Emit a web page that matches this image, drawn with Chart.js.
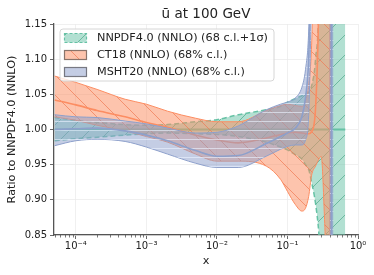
<!DOCTYPE html>
<html>
<head>
<meta charset="utf-8">
<script src="https://cdn.jsdelivr.net/npm/chart.js@4.4.0/dist/chart.umd.min.js"></script>
<style>
  body { margin: 0; background: #fff; }
  canvas { display: block; }
</style>
</head>
<body>
<canvas id="myChart" width="374" height="275"></canvas>
<script>
// values (ratio to NNPDF4.0 central value)
const nnpdfX = [5e-5, 1e-4, 2e-4, 5e-4, 1e-3, 2e-3, 5e-3, 1e-2, 2e-2, 5e-2, 0.08, 0.1, 0.13, 0.16, 0.18, 0.2, 0.22, 0.25, 0.28, 0.3, 0.4, 0.5, 0.66]
const nnpdfCentral = [1, 1, 1, 1, 1, 1, 1, 1, 1, 1, 1, 1, 1, 1, 1, 1, 1, 1, 1, 1, 1, 1, 1]
const nnpdfUpper = [1.017, 1.013, 1.010, 1.007, 1.006, 1.007, 1.011, 1.014, 1.021, 1.028, 1.033, 1.039, 1.044, 1.048, 1.050, 1.053, 1.062, 1.10, 1.2, 1.5, 1.5, 1.5, 1.5]
const nnpdfLower = [0.984, 0.987, 0.989, 0.992, 0.994, 0.995, 0.994, 0.993, 0.990, 0.982, 0.975, 0.971, 0.964, 0.958, 0.950, 0.943, 0.925, 0.895, 0.85, 0.80, 0.5, 0.5, 0.5]

const ct18X = [5e-5, 1e-4, 2e-4, 5e-4, 1e-3, 2e-3, 5e-3, 1e-2, 2e-2, 5e-2, 0.08, 0.1, 0.13, 0.16, 0.18, 0.2, 0.22, 0.25, 0.28, 0.3, 0.33, 0.36, 0.38, 0.4, 0.41]
const ct18Central = [1.042, 1.035, 1.027, 1.018, 1.010, 1.003, 0.992, 0.985, 0.981, 0.988, 0.993, 0.995, 0.996, 0.995, 0.994, 0.994, 0.997, 1.03, 1.2, 1.5, 2.0, 2.5, 2.8, 3.0, -2.0]
const ct18Upper = [1.076, 1.067, 1.057, 1.043, 1.036, 1.026, 1.016, 1.011, 1.011, 1.027, 1.034, 1.036, 1.034, 1.033, 1.040, 1.065, 1.12, 1.35, 1.5, 1.5, 1.5, 1.5, 1.5, 1.5, 1.5]
const ct18Lower = [1.018, 1.013, 1.006, 0.998, 0.990, 0.982, 0.965, 0.955, 0.955, 0.948, 0.929, 0.912, 0.893, 0.884, 0.888, 0.905, 0.935, 0.948, 0.958, 0.962, 0.89, 0.75, 0.5, 0.5, 0.5]

const mshtX = [5e-5, 1e-4, 2e-4, 5e-4, 1e-3, 2e-3, 5e-3, 1e-2, 2e-2, 5e-2, 0.08, 0.1, 0.13, 0.16, 0.18, 0.2, 0.22, 0.25, 0.3, 0.4, 0.41, 0.42, 0.43, 0.45]
const mshtCentral = [1.000, 1.001, 1.002, 0.998, 0.992, 0.984, 0.970, 0.962, 0.963, 0.980, 0.990, 0.995, 1.002, 1.018, 1.045, 1.10, 1.25, 1.5, 2.0, 2.5, 3.0, 3.0, -2.0, -2.0]
const mshtUpper = [1.021, 1.018, 1.017, 1.012, 1.008, 1.002, 0.995, 0.996, 1.005, 1.028, 1.036, 1.039, 1.045, 1.06, 1.085, 1.14, 1.3, 1.5, 1.5, 3.0, 3.0, 3.0, 3.0, 3.0]
const mshtLower = [0.977, 0.984, 0.986, 0.983, 0.975, 0.965, 0.952, 0.946, 0.946, 0.962, 0.972, 0.976, 0.978, 0.978, 0.985, 1.02, 1.2, 1.5, 2.0, 2.0, -2.0, -2.0, -2.0, -2.0]

const xTicks = [1e-4, 1e-3, 1e-2, 1e-1, 1]
const xTickLabels = ['10⁻⁴', '10⁻³', '10⁻²', '10⁻¹', '10⁰']
const legendLabels = ['NNPDF4.0 (NNLO) (68 c.l.+1σ)', 'CT18 (NNLO) (68% c.l.)', 'MSHT20 (NNLO) (68% c.l.)']

const green = '#66c2a5'
const orange = '#fc8d62'
const blue = '#8da0cb'

Chart.defaults.font.family = "'DejaVu Sans', sans-serif"
Chart.defaults.font.size = 10
Chart.defaults.color = '#222'

const ctx = document.getElementById('myChart').getContext('2d')

const makeHatch = (fill, line, kind, size) => {
    const c = document.createElement('canvas')
    c.width = size
    c.height = size
    const g = c.getContext('2d')
    g.fillStyle = fill
    g.fillRect(0, 0, size, size)
    g.strokeStyle = line
    g.lineWidth = 0.9
    g.beginPath()
    if (kind === '/') {
        g.moveTo(0, size); g.lineTo(size, 0)
        g.moveTo(-2, 2); g.lineTo(2, -2)
        g.moveTo(size - 2, size + 2); g.lineTo(size + 2, size - 2)
    } else if (kind === '\\') {
        g.moveTo(0, 0); g.lineTo(size, size)
        g.moveTo(size - 2, -2); g.lineTo(size + 2, 2)
        g.moveTo(-2, size - 2); g.lineTo(2, size + 2)
    } else {
        g.moveTo(0, size / 2); g.lineTo(size, size / 2)
    }
    g.stroke()
    return ctx.createPattern(c, 'repeat')
}

const greenHatch = makeHatch('rgba(102,194,165,0.5)', 'rgba(80,170,140,0.8)', '/', 20)
const orangeHatch = makeHatch('rgba(252,141,98,0.52)', 'rgba(240,120,80,0.75)', '\\', 20)
const blueHatch = makeHatch('rgba(141,160,203,0.52)', 'rgba(235,240,255,0.7)', '-', 9)

const pts = (xs, ys) => xs.map((x, i) => ({ x: x, y: ys[i] }))

const line = (data, color, width, order, extra) => Object.assign({
    data: data,
    borderColor: color,
    borderWidth: width,
    pointRadius: 0,
    fill: false,
    cubicInterpolationMode: 'monotone',
    order: order
}, extra || {})

const datasets = [
    line(pts(mshtX, mshtCentral), blue, 1.6, 1),
    line(pts(mshtX, mshtUpper), blue, 1, 1, { fill: 2, backgroundColor: blueHatch }),
    line(pts(mshtX, mshtLower), blue, 1, 1),
    line(pts(ct18X, ct18Central), orange, 1.6, 2),
    line(pts(ct18X, ct18Upper), orange, 1, 2, { fill: 5, backgroundColor: orangeHatch }),
    line(pts(ct18X, ct18Lower), orange, 1, 2),
    line(pts(nnpdfX, nnpdfCentral), green, 1.8, 3),
    line(pts(nnpdfX, nnpdfUpper), green, 1.5, 3, { fill: 8, backgroundColor: greenHatch, borderDash: [5, 3] }),
    line(pts(nnpdfX, nnpdfLower), green, 1.5, 3, { borderDash: [5, 3] })
]

const decorations = {
    id: 'decorations',
    afterDraw(chart) {
        const c = chart.ctx
        const area = chart.chartArea
        const xs = chart.scales.x
        c.save()

        // minor ticks on the log axis
        c.strokeStyle = '#444'
        c.lineWidth = 0.7
        for (let n = -5; n < 0; n++) {
            for (let k = 2; k < 10; k++) {
                const v = k * Math.pow(10, n)
                if (v < xs.min || v > xs.max) continue
                const px = Math.round(xs.getPixelForValue(v)) + 0.5
                c.beginPath()
                c.moveTo(px, area.bottom)
                c.lineTo(px, area.bottom + 2.5)
                c.stroke()
            }
        }

        // title
        c.fillStyle = '#222'
        c.font = "13.5px 'DejaVu Sans'"
        c.textAlign = 'center'
        c.textBaseline = 'middle'
        c.fillText('ū at 100 GeV', (area.left + area.right) / 2, 14)

        // legend box
        const bx = 60, by = 29, bw = 214, bh = 52, r = 3
        c.beginPath()
        c.moveTo(bx + r, by)
        c.arcTo(bx + bw, by, bx + bw, by + bh, r)
        c.arcTo(bx + bw, by + bh, bx, by + bh, r)
        c.arcTo(bx, by + bh, bx, by, r)
        c.arcTo(bx, by, bx + bw, by, r)
        c.closePath()
        c.fillStyle = 'rgba(255,255,255,0.8)'
        c.fill()
        c.strokeStyle = '#d6d6d6'
        c.lineWidth = 1
        c.stroke()

        const swatches = [
            { fill: greenHatch, edge: green, dash: [3, 2] },
            { fill: orangeHatch, edge: 'rgba(110,90,80,0.8)', dash: [] },
            { fill: blueHatch, edge: 'rgba(90,90,100,0.8)', dash: [] }
        ]
        c.font = "11.25px 'DejaVu Sans'"
        c.textAlign = 'left'
        legendLabels.forEach((label, i) => {
            const cy = 38 + i * 17
            const s = swatches[i]
            c.fillStyle = s.fill
            c.fillRect(64.5, cy - 4.5, 22, 9)
            c.setLineDash(s.dash)
            c.strokeStyle = s.edge
            c.lineWidth = 1.2
            c.strokeRect(64.5, cy - 4.5, 22, 9)
            c.setLineDash([])
            c.fillStyle = '#222'
            c.fillText(label, 97, cy + 0.5)
        })
        c.restore()
    }
}

const config = {
    type: 'line',
    data: { datasets: datasets },
    options: {
        responsive: false,
        animation: false,
        layout: { padding: { top: 24, right: 16, left: 0, bottom: 0 } },
        plugins: {
            legend: { display: false },
            tooltip: { enabled: false }
        },
        scales: {
            x: {
                type: 'logarithmic',
                min: 4.9e-5,
                max: 1,
                afterBuildTicks: (scale) => {
                    scale.ticks = xTicks.map(v => ({ value: v, major: true }))
                },
                afterFit: (scale) => { scale.height = 40 },
                ticks: {
                    autoSkip: false,
                    maxRotation: 0,
                    padding: 1,
                    color: '#222',
                    callback: (value) => {
                        const i = xTicks.indexOf(value)
                        return i >= 0 ? xTickLabels[i] : ''
                    }
                },
                grid: {
                    color: '#ececec',
                    lineWidth: 0.8,
                    tickColor: '#444',
                    tickLength: 4
                },
                border: { display: true, color: '#555', width: 1.3 },
                title: {
                    display: true,
                    text: 'x',
                    color: '#222',
                    font: { size: 11.25 },
                    padding: { top: 0, bottom: 7 }
                }
            },
            y: {
                min: 0.85,
                max: 1.15,
                afterFit: (scale) => { scale.width = 54 },
                ticks: {
                    stepSize: 0.05,
                    padding: 3,
                    color: '#222',
                    callback: (value) => value.toFixed(2)
                },
                grid: {
                    color: '#ececec',
                    lineWidth: 0.8,
                    tickColor: '#444',
                    tickLength: 4
                },
                border: { display: true, color: '#555', width: 1.3 },
                title: {
                    display: true,
                    text: 'Ratio to NNPDF4.0 (NNLO)',
                    color: '#222',
                    font: { size: 11.25 },
                    padding: { top: 5, bottom: 0 }
                }
            }
        }
    },
    plugins: [decorations]
}

const myChart = new Chart(ctx, config)
</script>
</body>
</html>
